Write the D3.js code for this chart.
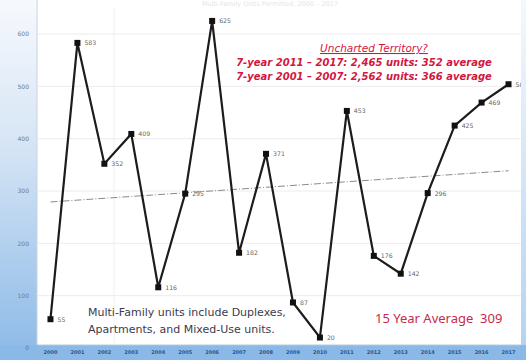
<!DOCTYPE html>
<html>
<head>
<meta charset="utf-8">
<script src="https://cdn.jsdelivr.net/npm/d3@7"></script>
<style>
  html, body { margin: 0; padding: 0; background: #fff; }
  svg { display: block; }
</style>
</head>
<body>
<svg id="chart" width="526" height="360"></svg>
<script>
// Multi-family units permitted per year
const years = ["2000","2001","2002","2003","2004","2005","2006","2007","2008",
               "2009","2010","2011","2012","2013","2014","2015","2016","2017"];
const units = [55, 583, 352, 409, 116, 295, 625, 182, 371, 87, 20, 453, 176, 142, 296, 425, 469, 504];
const yTicks = [0, 100, 200, 300, 400, 500, 600];
const periodNotes = [
  "7-year 2011 – 2017: 2,465 units: 352 average",
  "7-year 2001 – 2007: 2,562 units: 366 average"
];
const footNotes = [
  "Multi-Family units include Duplexes,",
  "Apartments, and Mixed-Use units."
];
const averageLabel = "15 Year Average  309";

const W = 526, H = 360;
const plot = { left: 37, right: 521, top: 0, bottom: 345 };
const svg = d3.select("#chart");

const x = d3.scaleBand().domain(years).range([plot.left, 522]);
const cx = d => x(d) + x.bandwidth() / 2;
const y = d3.scaleLinear().domain([0, 600]).range([348, 34]);

// panel gradients
const defs = svg.append("defs");
const lg = defs.append("linearGradient").attr("id", "leftPanel")
  .attr("x1", 0).attr("y1", 0).attr("x2", 0).attr("y2", 1);
lg.append("stop").attr("offset", "0%").attr("stop-color", "#f7f9fd");
lg.append("stop").attr("offset", "40%").attr("stop-color", "#d6e5f5");
lg.append("stop").attr("offset", "100%").attr("stop-color", "#8bb9e7");
const rg = defs.append("linearGradient").attr("id", "rightPanel")
  .attr("x1", 0).attr("y1", 0).attr("x2", 0).attr("y2", 1);
rg.append("stop").attr("offset", "0%").attr("stop-color", "#f4f8fd");
rg.append("stop").attr("offset", "100%").attr("stop-color", "#b5d3f0");

svg.append("rect").attr("x", 0).attr("y", 0).attr("width", W).attr("height", H).attr("fill", "#fff");
svg.append("rect").attr("x", 0).attr("y", 0).attr("width", plot.left).attr("height", H)
  .attr("fill", "url(#leftPanel)");
svg.append("rect").attr("x", 0).attr("y", plot.bottom).attr("width", W).attr("height", H - plot.bottom)
  .attr("fill", "#8ab9e7");
svg.append("line").attr("x1", plot.left).attr("x2", plot.left).attr("y1", 0).attr("y2", plot.bottom)
  .attr("stroke", "#c9d3de").attr("stroke-width", 1);
svg.append("line").attr("x1", plot.left).attr("x2", plot.right).attr("y1", plot.bottom).attr("y2", plot.bottom)
  .attr("stroke", "#b8c8da").attr("stroke-width", 1);

// faint heading along the top edge
svg.append("text").attr("x", 270).attr("y", 6).attr("text-anchor", "middle")
  .attr("font-family", "DejaVu Sans, sans-serif").attr("font-size", 6.5).attr("fill", "#e6e6e6")
  .text("Multi-Family Units Permitted, 2000 – 2017");

// grid
svg.append("g").selectAll("line").data(yTicks.filter(t => t > 0)).join("line")
  .attr("x1", plot.left + 1).attr("x2", plot.right)
  .attr("y1", d => y(d)).attr("y2", d => y(d))
  .attr("stroke", "#ececec").attr("stroke-width", 1);
svg.append("line").attr("x1", 114).attr("x2", 114).attr("y1", 8).attr("y2", plot.bottom)
  .attr("stroke", "#efefef").attr("stroke-width", 1);

// y axis
const yAxis = svg.append("g").attr("transform", `translate(${plot.left - 8},0)`)
  .call(d3.axisLeft(y).tickValues(yTicks).tickSize(0).tickPadding(0));
yAxis.select(".domain").remove();
yAxis.selectAll("text").attr("font-family", "DejaVu Sans, sans-serif").attr("font-size", 6)
  .attr("fill", "#6f7a86");

// x axis
const xAxis = svg.append("g").attr("transform", `translate(0,${plot.bottom + 5})`)
  .call(d3.axisBottom(x).tickSize(0).tickPadding(0));
xAxis.select(".domain").remove();
xAxis.selectAll("text").attr("font-family", "DejaVu Sans, sans-serif").attr("font-size", 5)
  .attr("font-weight", "bold").attr("fill", "#2e5488");

// linear trend from least squares fit
const n = units.length;
const idx = d3.range(n);
const mx = d3.mean(idx), my = d3.mean(units);
const slope = d3.sum(idx, i => (i - mx) * (units[i] - my)) / d3.sum(idx, i => (i - mx) ** 2);
const icpt = my - slope * mx;
svg.append("line")
  .attr("x1", cx(years[0])).attr("y1", y(icpt))
  .attr("x2", cx(years[n - 1])).attr("y2", y(icpt + slope * (n - 1)))
  .attr("stroke", "#8a8a8a").attr("stroke-width", 1).attr("stroke-dasharray", "7,2,1,2");

// series
const line = d3.line().x((d, i) => cx(years[i])).y(d => y(d));
svg.append("path").datum(units).attr("d", line)
  .attr("fill", "none").attr("stroke", "#1c1c1c").attr("stroke-width", 2.2).attr("stroke-linejoin", "miter");
svg.append("g").selectAll("rect").data(units).join("rect")
  .attr("x", (d, i) => cx(years[i]) - 3).attr("y", d => y(d) - 3)
  .attr("width", 6).attr("height", 6).attr("fill", "#111");
svg.append("g").selectAll("text").data(units).join("text")
  .attr("x", (d, i) => cx(years[i]) + 7).attr("y", d => y(d) + 2.5)
  .attr("font-family", "DejaVu Sans, sans-serif").attr("font-size", 6.2).attr("fill", "#666")
  .text(d => d);

// right edge panel, laid over the plot border
svg.append("rect").attr("x", plot.right).attr("y", 0).attr("width", W - plot.right).attr("height", plot.bottom)
  .attr("fill", "url(#rightPanel)");

// annotations
const red = "#d2173f";
svg.append("text").attr("x", 374).attr("y", 52).attr("text-anchor", "middle")
  .attr("font-family", "DejaVu Sans, sans-serif").attr("font-style", "italic")
  .attr("font-size", 10.5).attr("fill", red).attr("text-decoration", "underline")
  .text("Uncharted Territory?");
svg.append("g").selectAll("text").data(periodNotes).join("text")
  .attr("x", 364).attr("y", (d, i) => 66 + i * 14).attr("text-anchor", "middle")
  .attr("font-family", "DejaVu Sans, sans-serif").attr("font-style", "italic")
  .attr("font-weight", "bold").attr("font-size", 10).attr("fill", red)
  .text(d => d);

svg.append("g").selectAll("text").data(footNotes).join("text")
  .attr("x", 88).attr("y", (d, i) => 316 + i * 17)
  .attr("font-family", "DejaVu Sans, sans-serif").attr("font-size", 11).attr("fill", "#3b3b4f")
  .text(d => d);

svg.append("text").attr("x", 375).attr("y", 323)
  .attr("font-family", "Noto Sans, sans-serif").attr("font-size", 13).attr("fill", "#c72a4c")
  .style("white-space", "pre")
  .text(averageLabel);
</script>
</body>
</html>
